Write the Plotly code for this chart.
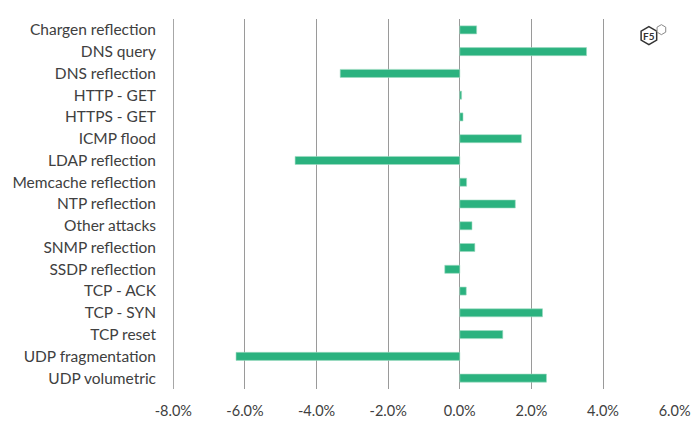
import plotly.graph_objects as go

font_family = 'Lato'

# attack types, top to bottom as shown
attacks = [
    'Chargen reflection', 'DNS query', 'DNS reflection', 'HTTP - GET',
    'HTTPS - GET', 'ICMP flood', 'LDAP reflection', 'Memcache reflection',
    'NTP reflection', 'Other attacks', 'SNMP reflection', 'SSDP reflection',
    'TCP - ACK', 'TCP - SYN', 'TCP reset', 'UDP fragmentation',
    'UDP volumetric',
]
# change, in percent
change = [
    0.47, 3.54, -3.34, 0.05,
    0.09, 1.72, -4.60, 0.19,
    1.55, 0.34, 0.42, -0.42,
    0.18, 2.31, 1.20, -6.25,
    2.42,
]
tick_vals = [-8, -6, -4, -2, 0, 2, 4, 6]
tick_text = ['%.1f%%' % v for v in tick_vals]

bar_color = '#2BB27F'
grid_color = '#9a9a9a'

trace = go.Bar(
    x=change,
    y=attacks,
    orientation='h',
    marker=dict(color=bar_color, line=dict(color='#9fdcc3', width=0.6)),
    showlegend=False,
)


# F5 logo, drawn in pixels around an anchor at the top right
def hexagon(cx, cy, r):
    pts = [(0, r), (0.866 * r, r / 2), (0.866 * r, -r / 2),
           (0, -r), (-0.866 * r, -r / 2), (-0.866 * r, r / 2)]
    return 'M ' + ' L '.join('%.2f,%.2f' % (cx + px, cy + py) for px, py in pts) + ' Z'


logo_x, logo_y = 0.948, 0.955
shapes = [
    # plotly drops the grid line sitting on the left edge, so draw it
    dict(type='line', xref='x', yref='paper', x0=tick_vals[0], x1=tick_vals[0],
         y0=0, y1=1, line=dict(color=grid_color, width=1), layer='below'),
    dict(type='path', xref='paper', yref='paper', xsizemode='pixel', ysizemode='pixel',
         xanchor=logo_x, yanchor=logo_y, path=hexagon(0, 0, 9),
         line=dict(color='#333333', width=1.5), fillcolor='white'),
    dict(type='path', xref='paper', yref='paper', xsizemode='pixel', ysizemode='pixel',
         xanchor=logo_x, yanchor=logo_y, path=hexagon(12.5, 6, 5),
         line=dict(color='#888888', width=1), fillcolor='white'),
]
annotations = [
    dict(x=logo_x, y=logo_y, xref='paper', yref='paper', text='<b>F5</b>',
         showarrow=False, font=dict(family=font_family, size=10, color='#333333'),
         xanchor='center', yanchor='middle'),
]

# the page puts the figure 8px in from the window edge
layout = go.Layout(
    width=687,
    height=412,
    margin=dict(l=165, r=20, t=11, b=31),
    paper_bgcolor='white',
    plot_bgcolor='white',
    font=dict(family=font_family, size=15.5, color='#404040'),
    bargap=0.63,
    xaxis=dict(
        range=[-8.01, 6.01],
        tickvals=tick_vals,
        ticktext=tick_text,
        tickfont=dict(size=14.5),
        showgrid=True,
        gridcolor=grid_color,
        gridwidth=1,
        zeroline=False,
        showline=False,
        ticks='',
        ticklabelstandoff=11,
        automargin=False,
    ),
    yaxis=dict(
        categoryorder='array',
        categoryarray=attacks,
        autorange='reversed',
        showgrid=False,
        zeroline=False,
        showline=False,
        ticks='',
        ticklabelstandoff=16,
        automargin=False,
    ),
    shapes=shapes,
    annotations=annotations,
)

fig = go.Figure(data=[trace], layout=layout)
fig.write_html('out.html')
